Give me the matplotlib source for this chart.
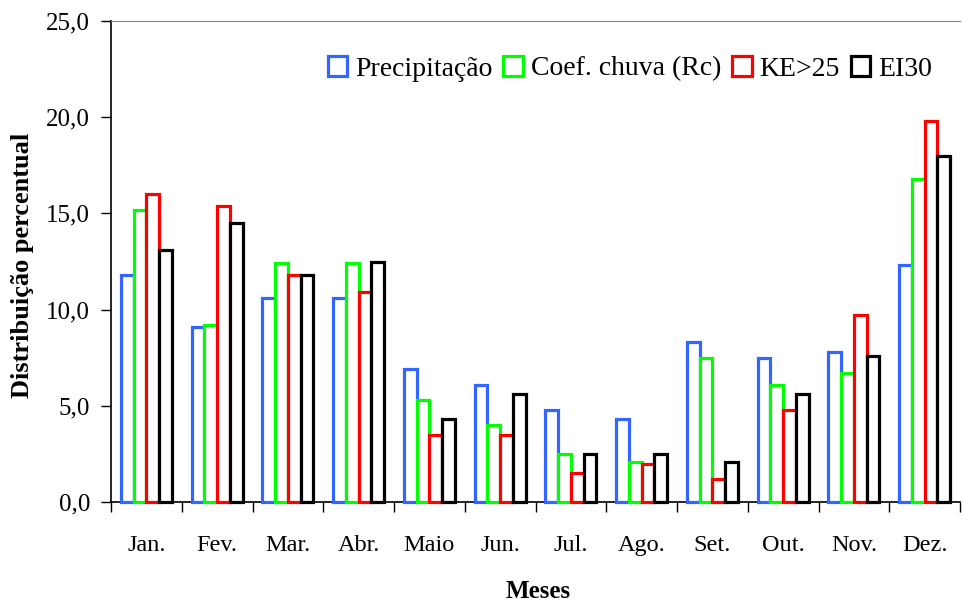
import numpy as np
import matplotlib
matplotlib.use("Agg")
import matplotlib.pyplot as plt
from matplotlib.ticker import FuncFormatter

# monthly percent distribution
meses = ['Jan.', 'Fev.', 'Mar.', 'Abr.', 'Maio', 'Jun.',
         'Jul.', 'Ago.', 'Set.', 'Out.', 'Nov.', 'Dez.']
precipitacao = [11.8, 9.1, 10.6, 10.6, 6.9, 6.1, 4.8, 4.3, 8.3, 7.5, 7.8, 12.3]
coef_chuva = [15.2, 9.2, 12.4, 12.4, 5.3, 4.0, 2.5, 2.1, 7.5, 6.1, 6.7, 16.8]
ke25 = [16.0, 15.4, 11.8, 10.9, 3.5, 3.5, 1.5, 2.0, 1.2, 4.8, 9.7, 19.8]
ei30 = [13.1, 14.5, 11.8, 12.5, 4.3, 5.6, 2.5, 2.5, 2.1, 5.6, 7.6, 18.0]

series = [
    ('Precipitação', precipitacao, '#3366FF'),
    ('Coef. chuva (Rc)', coef_chuva, '#00FF00'),
    ('KE>25', ke25, '#FF0000'),
    ('EI30', ei30, '#000000'),
]

plt.rcParams['font.family'] = ['Liberation Serif', 'DejaVu Serif']

fig = plt.figure(figsize=(9.63, 6.08), dpi=100)
ax = fig.add_axes([111 / 963, 1 - 502 / 608, 849 / 963, 481 / 608])

x = np.arange(len(meses))
w = 0.18
for i, (nome, vals, cor) in enumerate(series):
    off = (i - 1.5) * w
    bars = ax.bar(x + off, vals, w, facecolor='white', edgecolor=cor,
                  linewidth=2.3, label=nome, zorder=3)
    for b in bars:
        b.set_clip_on(False)

ax.set_xlim(-0.5, len(meses) - 0.5)
ax.set_ylim(0, 25)
ax.set_yticks(np.arange(0, 25.1, 5))
ax.yaxis.set_major_formatter(FuncFormatter(lambda v, p: ('%.1f' % v).replace('.', ',')))

# ticks between categories, labels at centres
ax.set_xticks(np.arange(-0.5, len(meses), 1.0))
ax.set_xticklabels([])
ax.set_xticks(x, minor=True)
ax.set_xticklabels(meses, minor=True)
ax.tick_params(axis='x', which='major', direction='out', length=7, width=1)
ax.tick_params(axis='x', which='minor', length=0, pad=24, labelsize=17.5)
ax.tick_params(axis='y', direction='out', length=7, width=1, labelsize=18, pad=8)

ax.spines['right'].set_visible(False)
ax.spines['top'].set_color('#888888')
ax.spines['left'].set_linewidth(1.2)
ax.spines['bottom'].set_linewidth(1.2)

fig.text(23 / 963, 1 - 265 / 608, 'Distribuição percentual', rotation=90,
         ha='center', va='center', fontsize=19, fontweight='bold')
fig.text(538 / 963, 1 - 591 / 608, 'Meses', ha='center', va='center',
         fontsize=18, fontweight='bold')

ax.legend(loc='upper right', bbox_to_anchor=(0.98, 0.95), ncol=4, frameon=False,
          fontsize=20, handlelength=0.7, handleheight=0.7, handletextpad=0.28,
          columnspacing=0.4, borderaxespad=0)

fig.savefig('out.png', dpi=100)
